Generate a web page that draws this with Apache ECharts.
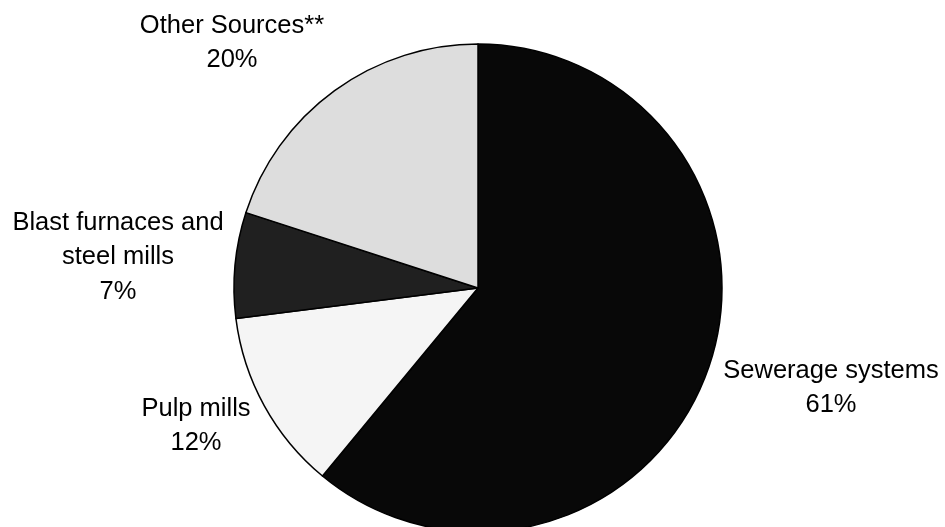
<!DOCTYPE html>
<html>
<head>
<meta charset="utf-8">
<script src="https://cdn.jsdelivr.net/npm/echarts@6/dist/echarts.min.js"></script>
<style>
html,body{margin:0;padding:0;background:#fff;}
#chart{width:945px;height:527px;}
</style>
</head>
<body>
<div id="chart"></div>
<script>
const categories = ['Sewerage systems', 'Pulp mills', 'Blast furnaces and\nsteel mills', 'Other Sources**'];
const values = [61, 12, 7, 20];
const colors = ['#080808', '#f5f5f5', '#202020', '#dddddd'];
const labelPos = [[831, 388], [196, 426], [118, 257], [232, 43]];

const chart = echarts.init(document.getElementById('chart'), null, {renderer: 'canvas'});
chart.setOption({
  animation: false,
  backgroundColor: '#ffffff',
  series: [{
    type: 'pie',
    center: [478, 288],
    radius: [0, 244],
    startAngle: 90,
    clockwise: true,
    avoidLabelOverlap: false,
    data: categories.map((c, i) => ({
      name: c, value: values[i],
      itemStyle: {color: colors[i]}
    })),
    itemStyle: {borderColor: '#000', borderWidth: 1.5},
    label: {
      show: true,
      position: 'outside',
      formatter: p => p.name + '\n' + p.percent.toFixed(0) + '%',
      fontFamily: 'Liberation Sans, Arial, sans-serif',
      fontSize: 25.5,
      lineHeight: 34.5,
      color: '#000',
      align: 'center'
    },
    labelLine: {show: false},
    labelLayout: p => ({
      x: labelPos[p.dataIndex][0],
      y: labelPos[p.dataIndex][1],
      align: 'center',
      verticalAlign: 'middle'
    }),
    emphasis: {disabled: true}
  }]
});
</script>
</body>
</html>
